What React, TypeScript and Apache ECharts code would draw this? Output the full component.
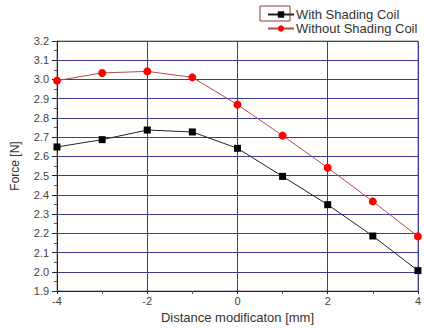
import React, { useEffect, useRef } from "react";
import * as echarts from "echarts";

const xValues = [-4, -3, -2, -1, 0, 1, 2, 3, 4];
const withCoil = [2.649, 2.687, 2.737, 2.727, 2.642, 2.496, 2.349, 2.186, 2.006];
const withoutCoil = [2.994, 3.034, 3.042, 3.011, 2.869, 2.708, 2.541, 2.366, 2.184];
const seriesNames = ["With Shading Coil", "Without Shading Coil"];

const FONT = "Liberation Sans";

export default function App() {
  const ref = useRef<HTMLDivElement>(null);
  useEffect(() => {
    if (!ref.current) return;
    const chart = echarts.init(ref.current, undefined, { renderer: "svg" });
    const grid = "#3c3c96";
    chart.setOption({
      animation: false,
      textStyle: { fontFamily: FONT },
      grid: { left: 57, right: 2, top: 41, bottom: 40, show: true, borderColor: "#888", borderWidth: 1 },
      legend: {
        left: 262,
        top: 3,
        orient: "vertical",
        itemGap: 1,
        itemWidth: 26,
        itemHeight: 8,
        textStyle: { fontFamily: FONT, fontSize: 13, color: "#333", padding: [0, 0, 0, -3] },
        data: seriesNames,
      },
      graphic: [
        {
          type: "rect",
          shape: { x: 260, y: 6, width: 30, height: 15 },
          style: { fill: "none", stroke: "#8a3a3a", lineWidth: 1 },
        },
      ],
      xAxis: {
        type: "value",
        min: -4,
        max: 4,
        interval: 2,
        name: "Distance modificaton [mm]",
        nameLocation: "middle",
        nameGap: 19,
        nameTextStyle: { fontFamily: FONT, fontSize: 13, color: "#333" },
        axisLine: { show: true, onZero: false, lineStyle: { color: "#222", width: 1 } },
        axisTick: { show: true, length: 3, lineStyle: { color: "#222" } },
        minorTick: { show: true, splitNumber: 2, length: 3, lineStyle: { color: "#555" } },
        axisLabel: { fontFamily: FONT, fontSize: 11, color: "#444", margin: 4 },
        splitLine: { show: true, lineStyle: { color: grid, width: 1 } },
      },
      yAxis: {
        type: "value",
        min: 1.9,
        max: 3.2,
        interval: 0.1,
        name: "Force [N]",
        nameLocation: "middle",
        nameGap: 36,
        nameTextStyle: { fontFamily: FONT, fontSize: 12, color: "#333" },
        axisLine: { show: true, onZero: false, lineStyle: { color: "#222", width: 1 } },
        axisTick: { show: true, length: 5, lineStyle: { color: "#222" } },
        minorTick: { show: true, splitNumber: 2, length: 3, lineStyle: { color: "#555" } },
        axisLabel: {
          fontFamily: FONT,
          fontSize: 11,
          color: "#444",
          margin: 8,
          formatter: (v: number) => v.toFixed(1),
        },
        splitLine: { show: true, lineStyle: { color: grid, width: 1 } },
      },
      series: [
        {
          name: seriesNames[0],
          type: "line",
          data: xValues.map((x, i) => [x, withCoil[i]]),
          symbol: "rect",
          symbolSize: 7,
          lineStyle: { color: "#222", width: 1 },
          itemStyle: { color: "#000" },
          z: 3,
        },
        {
          name: seriesNames[1],
          type: "line",
          data: xValues.map((x, i) => [x, withoutCoil[i]]),
          symbol: "circle",
          symbolSize: 8,
          lineStyle: { color: "#b84848", width: 1 },
          itemStyle: { color: "#f00" },
          z: 3,
        },
      ],
    });
    return () => chart.dispose();
  }, []);
  return <div ref={ref} style={{ width: 424, height: 331, position: "absolute", left: 0, top: 0, background: "#fff" }} />;
}
